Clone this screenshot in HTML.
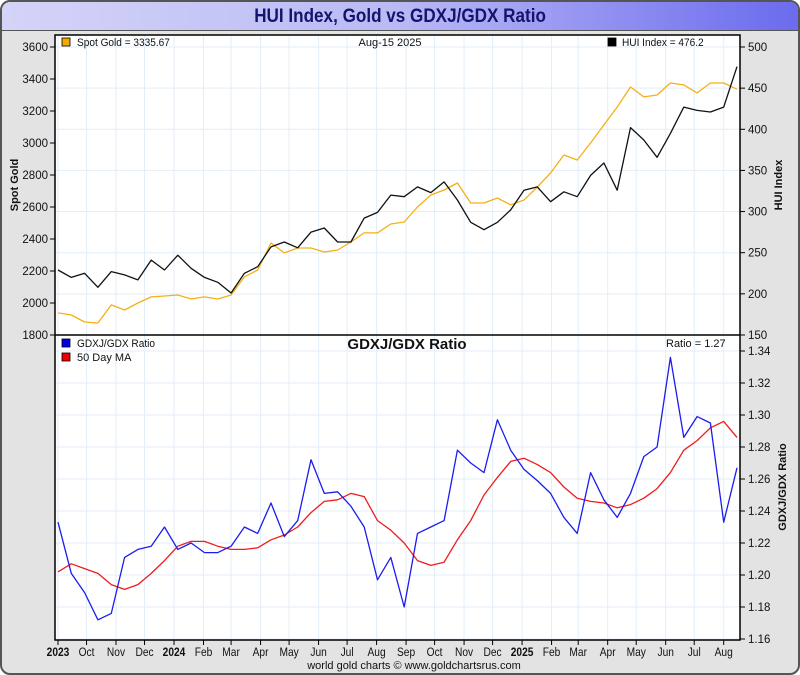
<!DOCTYPE html>
<html><head><meta charset="utf-8"><style>
body{margin:0;background:#fff;font-family:"Liberation Sans",sans-serif}
#frame{position:absolute;left:0;top:0;width:796px;height:671px;border:2px solid #555;border-radius:10px;background:#e3e3e3;overflow:hidden}
#title{position:absolute;left:0;top:0;width:796px;height:28px;background:linear-gradient(90deg,#d4d4f8,#b9b9f5 50%,#6b6bee);border-bottom:1px solid #555;text-align:center;font-weight:bold;font-size:19px;line-height:30px;color:#14146e}
#title span{display:inline-block;transform:scaleX(0.9)}
svg{position:absolute;left:0;top:0}
text{font-family:"Liberation Sans",sans-serif}
</style></head><body>
<div id="frame">
<div id="title"><span>HUI Index, Gold vs GDXJ/GDX Ratio</span></div>
</div>
<svg id="chart" width="800" height="675"></svg>
<script>
const dayOffsets=[0,14,28,42,56,70,84,98,112,126,140,154,168,182,196,210,224,238,252,266,280,294,308,322,336,350,364,378,392,406,420,434,448,462,476,490,504,518,532,546,560,574,588,602,616,630,644,658,672,686,700,714];
const goldValues=[1938,1925,1881,1875,1988,1956,2000,2038,2044,2050,2025,2038,2025,2050,2163,2206,2375,2313,2344,2344,2319,2331,2381,2438,2438,2494,2506,2600,2675,2706,2750,2625,2625,2656,2613,2644,2725,2813,2925,2894,3000,3113,3225,3350,3288,3300,3375,3363,3313,3375,3375,3336];
const huiValues=[229,220,225,208,227,223,217,241,229,247,231,220,214,201,225,233,257,263,256,275,280,263,263,292,299,320,318,330,323,336,314,287,278,287,302,326,330,312,324,318,344,359,326,402,387,366,395,427,423,421,427,476];
const ratioValues=[1.233,1.201,1.189,1.172,1.176,1.211,1.216,1.218,1.230,1.216,1.220,1.214,1.214,1.218,1.230,1.226,1.245,1.224,1.234,1.272,1.251,1.252,1.243,1.230,1.197,1.211,1.180,1.226,1.230,1.234,1.278,1.270,1.264,1.297,1.278,1.266,1.259,1.251,1.236,1.226,1.264,1.247,1.236,1.251,1.274,1.280,1.336,1.286,1.299,1.295,1.233,1.267];
const maValues=[1.202,1.207,1.204,1.201,1.194,1.191,1.194,1.201,1.209,1.218,1.221,1.221,1.218,1.216,1.216,1.217,1.222,1.225,1.230,1.239,1.246,1.247,1.251,1.249,1.234,1.228,1.220,1.209,1.206,1.208,1.222,1.234,1.250,1.261,1.271,1.273,1.269,1.264,1.255,1.248,1.246,1.245,1.242,1.244,1.248,1.254,1.264,1.278,1.284,1.292,1.296,1.286];
const goldTicks=[1800,2000,2200,2400,2600,2800,3000,3200,3400,3600];
const huiTicks=[150,200,250,300,350,400,450,500];
const ratioTicks=[1.16,1.18,1.20,1.22,1.24,1.26,1.28,1.30,1.32,1.34];
const monthLabels=["2023","Oct","Nov","Dec","2024","Feb","Mar","Apr","May","Jun","Jul","Aug","Sep","Oct","Nov","Dec","2025","Feb","Mar","Apr","May","Jun","Jul","Aug"];
const monthDays=[0,30,61,91,122,153,182,213,243,274,304,335,366,396,427,457,488,519,547,578,608,639,669,700];
const boldMonths=["2023","2024","2025"];

const NS="http://www.w3.org/2000/svg";
const svg=document.getElementById('chart');
const L=55,R=740,T1=35,B1=335,B2=640;
const xS=d=>58+d*0.951;
const yGold=v=>47+(3600-v)/6.25;
const yHui=v=>47+(500-v)*41.14/50;
const yRatio=v=>351+(1.34-v)*1600;
function el(tag,attrs,txt){const e=document.createElementNS(NS,tag);for(const k in attrs)e.setAttribute(k,attrs[k]);if(txt!==undefined)e.textContent=txt;svg.appendChild(e);return e;}

const bg=el('rect',{x:L,y:T1,width:R-L,height:B2-T1,fill:'#fff'});


monthDays.forEach((d,i)=>{
  const g=el('line',{x1:xS(d),x2:xS(d),y1:T1,y2:B2,stroke:'#e2eef8','stroke-width':1});
  
  
  const t=el('line',{x1:xS(d),x2:xS(d),y1:B2,y2:B2+5,stroke:'#000'});
  
  
  const lb=el('text',{x:xS(d),y:B2+16,'text-anchor':'middle','font-size':12,'font-weight':boldMonths.includes(monthLabels[i])?'bold':'normal',fill:'#111',transform:`translate(${xS(d)},0) scale(0.85,1) translate(${-xS(d)},0)`},monthLabels[i]);
  
  
});
huiTicks.forEach(v=>{
  const y=yHui(v);
  const g=el('line',{x1:L,x2:R,y1:y,y2:y,stroke:'#e2eef8'});
  
  
  const t=el('line',{x1:R,x2:R+5,y1:y,y2:y,stroke:'#000'});
  
  
  const lb=el('text',{x:R+8,y:y+4,'font-size':11.5,fill:'#111'},String(v));
  
  
});
goldTicks.forEach(v=>{
  const y=yGold(v);
  const t=el('line',{x1:L-5,x2:L,y1:y,y2:y,stroke:'#000'});
  
  
  const lb=el('text',{x:L-7,y:y+4,'text-anchor':'end','font-size':11.5,fill:'#111'},String(v));
  
  
});
ratioTicks.forEach(v=>{
  const y=yRatio(v);
  const g=el('line',{x1:L,x2:R,y1:y,y2:y,stroke:'#e2eef8'});
  
  
  const t=el('line',{x1:R,x2:R+5,y1:y,y2:y,stroke:'#000'});
  
  
  const lb=el('text',{x:R+8,y:y+4,'font-size':11.5,fill:'#111'},v.toFixed(2));
  
  
});
function line(vals,ys,color,name){
  const d=vals.map((v,i)=>(i?'L':'M')+xS(dayOffsets[i]).toFixed(1)+','+ys(v).toFixed(1)).join('');
  const p=el('path',{d:d,fill:'none',stroke:color,'stroke-width':1.3,'stroke-linejoin':'round'});
  
  
}
line(goldValues,yGold,'#f5b016','gold-line');
line(huiValues,yHui,'#111','hui-line');
line(maValues,yRatio,'#ee1c1c','ma-line');
line(ratioValues,yRatio,'#1c1cf0','ratio-line');
const br=el('rect',{x:L,y:T1,width:R-L,height:B2-T1,fill:'none',stroke:'#000','stroke-width':1.5});


const dv=el('line',{x1:L,x2:R,y1:B1,y2:B1,stroke:'#000','stroke-width':1.5});


function sw(x,y,c,name){const r=el('rect',{x:x,y:y,width:8,height:8,fill:c,stroke:'#000','stroke-width':0.8});}
function tx(x,y,s,attrs,name){const t=el('text',Object.assign({x:x,y:y,'font-size':11,fill:'#111'},attrs||{}),s);return t;}
sw(62,38,'#f5a800','gold-legend-swatch');
tx(77,46,'Spot Gold   = 3335.67',{'xml:space':'preserve','transform':'translate(77,0) scale(0.92,1) translate(-77,0)'},'gold-legend-label');
tx(390,46,'Aug-15  2025',{'text-anchor':'middle','xml:space':'preserve'},'date-label');
sw(608,38,'#000','hui-legend-swatch');
tx(622,46,'HUI Index    = 476.2',{'xml:space':'preserve','transform':'translate(622,0) scale(0.92,1) translate(-622,0)'},'hui-legend-label');
sw(62,339,'#0000ee','ratio-legend-swatch');
tx(77,347,'GDXJ/GDX Ratio',{'transform':'translate(77,0) scale(0.92,1) translate(-77,0)'},'ratio-legend-label');
sw(62,353,'#ee0000','ma-legend-swatch');
tx(77,361,'50 Day MA',{},'ma-legend-label');
tx(407,349,'GDXJ/GDX Ratio',{'text-anchor':'middle','font-size':15,'font-weight':'bold'},'ratio-panel-title');
tx(666,347,'Ratio = 1.27',{},'ratio-value-label');
tx(18,185,'Spot Gold',{'text-anchor':'middle','font-weight':'bold','transform':'rotate(-90 18 185)'},'gold-axis-title');
tx(782,185,'HUI Index',{'text-anchor':'middle','font-weight':'bold','transform':'rotate(-90 782 185)'},'hui-axis-title');
tx(786,487,'GDXJ/GDX Ratio',{'text-anchor':'middle','font-weight':'bold','transform':'rotate(-90 786 487)'},'ratio-axis-title');
tx(414,669,'world gold charts © www.goldchartsrus.com',{'text-anchor':'middle'},'credit-label');
</script>
</body></html>
